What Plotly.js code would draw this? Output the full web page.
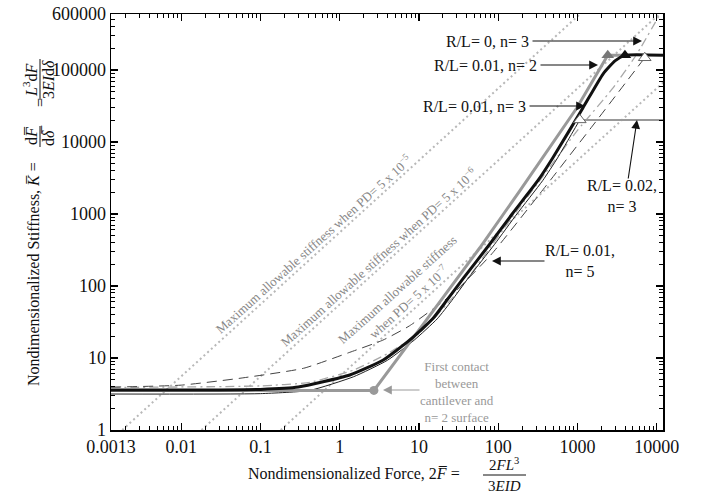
<!DOCTYPE html>
<html><head><meta charset="utf-8">
<script src="https://cdn.plot.ly/plotly-3.0.1.min.js"></script>
<style>body{margin:0;background:#fff}</style>
</head><body><div id="chart" style="width:702px;height:496px"></div>
<script>
// ---- tick labels ----
const xTickVals=[0.0013,0.01,0.1,1,10,100,1000,10000];
const xTickText=['0.0013','0.01','0.1','1','10','100','1000','10000'];
const yTickVals=[1,10,100,1000,10000,100000,600000];
const yTickText=['1','10','100','1000','10000','100000','600000'];

// ---- curves ----
// R/L=0.01, n=3 (thick black)
const rl01n3X=[0.0013,0.03,0.1,0.3,1.34,3.5,7.6,14.9,22.4,35.6,78,150,316,487,1170,2100,3000,3970,12000];
const rl01n3Y=[3.58,3.6,3.66,3.95,5.8,9.3,17.7,35,63,125,380,1000,2900,6000,29700,88000,135000,160000,160000];
// R/L=0.01, n=2 (grey)
const rl01n2X=[0.0013,2.7,13.7,58.6,187,980,1750,2410,3970];
const rl01n2Y=[3.55,3.55,39,340,2100,29700,88000,160000,160000];
// R/L=0.02, n=3 (thin black) and its plateau
const rl02n3X=[0.0013,0.1,0.42,1.5,4,8.7,17,26,41,90,172,363,560,1070];
const rl02n3Y=[3.16,3.2,3.55,5.5,9.3,17.7,35,63,125,380,1000,2900,6000,20300];
const rl02n3PlatX=[1070,12000];
const rl02n3PlatY=[20300,20300];
// R/L=0.01, n=5 (long dash)
const rl01n5X=[0.0013,0.01,0.06,0.35,1.34,3.5,7.6,27,83,333,1500,7060];
const rl01n5Y=[3.94,4.2,5.3,7.2,12,17.7,28,79,280,1900,16000,148000];
// R/L=0, n=3 (light dash-dot, no plateau)
const rl0n3X=[0.0013,0.1,0.42,1.5,4,10,30,60,150,400,1000,2760,5600,11000];
const rl0n3Y=[3.9,4.1,4.6,6.8,11.5,22,80,225,900,3800,14500,55000,166000,600000];
// maximum allowable stiffness lines (PD = 5e-5, 5e-6, 5e-7)
const pd5e5X=[0.0018,1080], pd5e5Y=[1,600000];
const pd5e6X=[0.018,10800], pd5e6Y=[1,600000];
const pd5e7X=[0.18,108000], pd5e7Y=[1,600000];
// markers
const contactX=[2.7], contactY=[3.55];
const n2EndX=[2410], n2EndY=[160000];
const n3EndX=[3970], n3EndY=[160000];
const openEndX=[1070,7060], openEndY=[20300,148000];

// ---- geometry helpers (plot area in px) ----
const L=111,R=663,T=14,B=430;
const xr=[Math.log10(0.0013),Math.log10(12000)], yr=[0,Math.log10(600000)];
const ax=px=>xr[0]+(px-L)/(R-L)*(xr[1]-xr[0]);
const ay=py=>yr[0]+(B-py)/(B-T)*(yr[1]-yr[0]);
const pxp=px=>(px-L)/(R-L);
const pyp=py=>(B-py)/(B-T);

const FONT='Liberation Serif';
const traces=[
 {x:pd5e5X,y:pd5e5Y,mode:'lines',line:{color:'#b8b8b8',width:2,dash:'2px,3px'}},
 {x:pd5e6X,y:pd5e6Y,mode:'lines',line:{color:'#b8b8b8',width:2,dash:'2px,3px'}},
 {x:pd5e7X,y:pd5e7Y,mode:'lines',line:{color:'#b8b8b8',width:2,dash:'2px,3px'}},
 {x:rl0n3X,y:rl0n3Y,mode:'lines',line:{color:'#a8a8a8',width:1.3,dash:'9px,4px,2px,4px',shape:'spline',smoothing:0.5}},
 {x:rl01n5X,y:rl01n5Y,mode:'lines',line:{color:'#444',width:1,dash:'10px,6px',shape:'spline',smoothing:0.5}},
 {x:rl02n3PlatX,y:rl02n3PlatY,mode:'lines',line:{color:'#999',width:2}},
 {x:rl02n3X,y:rl02n3Y,mode:'lines',line:{color:'#222',width:1,shape:'spline',smoothing:0.5}},
 {x:rl01n2X,y:rl01n2Y,mode:'lines',line:{color:'#999',width:3}},
 {x:rl01n3X,y:rl01n3Y,mode:'lines',line:{color:'#111',width:3,shape:'spline',smoothing:0.5}},
 {x:contactX,y:contactY,mode:'markers',marker:{color:'#999',size:9,symbol:'circle'}},
 {x:n2EndX,y:n2EndY,mode:'markers',marker:{color:'#777',size:11,symbol:'triangle-up'}},
 {x:n3EndX,y:n3EndY,mode:'markers',marker:{color:'#111',size:11,symbol:'triangle-up'}},
 {x:openEndX,y:openEndY,mode:'markers',marker:{color:'#fff',size:11,symbol:'triangle-up',line:{color:'#666',width:1}}}
];

function minorVals(lo,hi,maxv){const v=[];for(let e=lo;e<=hi;e++)for(let m=2;m<=9;m++){const t=m*Math.pow(10,e);if(t<=maxv)v.push(t);}return v;}

const axisCommon={type:'log',showgrid:false,zeroline:false,showline:true,linecolor:'#000',linewidth:1.5,
 ticks:'inside',ticklen:7,tickwidth:1.2,tickcolor:'#000',mirror:'allticks',tickmode:'array',
 tickfont:{family:FONT,size:18,color:'#111'}};

const annotations=[];
function txt(text,px,py,opts){annotations.push(Object.assign({text:text,xref:'paper',yref:'paper',x:pxp(px),y:pyp(py),xanchor:'center',yanchor:'middle',showarrow:false,font:{family:FONT,size:16,color:'#111'}},opts||{}));}
function arrow(tx,ty,hx,hy,color){annotations.push({text:'',x:ax(hx),y:ay(hy),xref:'x',yref:'y',ax:tx-hx,ay:ty-hy,showarrow:true,arrowhead:2,arrowsize:1.6,arrowwidth:1.1,arrowcolor:color||'#111'});}

txt('R/L= 0, n= 3',531,42,{xanchor:'right'});
arrow(531,41,642,41);
txt('R/L= 0.01, n= 2',539,65,{xanchor:'right'});
arrow(539,65,598,65);
txt('R/L= 0.01, n= 3',528,106,{xanchor:'right'});
arrow(528,106,585,106);
txt('R/L= 0.02,<br>n= 3',622,196);
arrow(628,180,637,120);
txt('R/L= 0.01,<br>n= 5',580,261);
arrow(546,261,492,261);
txt('First contact<br>between<br>cantilever and<br>n= 2 surface',457,392,{font:{family:FONT,size:13,color:'#999'}});
arrow(421,390,383,390,'#999');

const pdFont={family:FONT,size:13,color:'#888'};
txt('Maximum allowable stiffness when PD= 5 x 10<sup>−5</sup>',313,244,{textangle:-42,font:pdFont});
txt('Maximum allowable stiffness when PD= 5 x 10<sup>−6</sup>',378,257,{textangle:-42,font:pdFont});
txt('Maximum allowable stiffness<br>when PD= 5 x 10<sup>−7</sup>',403,296,{textangle:-42,font:pdFont});

// x axis title with fraction
const tf={family:FONT,size:16,color:'#111'};
const ff={family:FONT,size:15,color:'#111'};
txt('Nondimensionalized Force, 2<i>F\u0305</i> =',462,473,{xanchor:'right',font:tf});
txt('2<i>FL</i><sup>3</sup>',504,464,{font:ff});
txt('3<i>EID</i>',504,486,{font:ff});
// y axis title with fractions
txt('Nondimensionalized Stiffness, <i>K\u0305</i> =',33,388,{textangle:-90,yanchor:'bottom',font:tf});
txt('d<i>F\u0305</i>',31,136,{textangle:-90,font:tf});
txt('d<i>\u03b4\u0305</i>',48,136,{textangle:-90,font:tf});
txt('=',40,103,{textangle:-90,font:tf});
txt('<i>L</i><sup>3</sup>d<i>F</i>',30,80,{textangle:-90,font:tf});
txt('3<i>EI</i>d<i>\u03b4</i>',48,80,{textangle:-90,font:tf});

const shapes=[
 {type:'line',xref:'paper',yref:'paper',x0:pxp(483),x1:pxp(526),y0:pyp(475),y1:pyp(475),line:{color:'#111',width:1}},
 {type:'line',xref:'paper',yref:'paper',x0:pxp(40),x1:pxp(40),y0:pyp(126),y1:pyp(147),line:{color:'#111',width:1}},
 {type:'line',xref:'paper',yref:'paper',x0:pxp(40),x1:pxp(40),y0:pyp(59),y1:pyp(100),line:{color:'#111',width:1}}
];

const layout={width:702,height:496,margin:{l:L,r:702-R,t:T,b:496-B},showlegend:false,
 paper_bgcolor:'#fff',plot_bgcolor:'#fff',
 xaxis:Object.assign({},axisCommon,{range:xr,tickvals:xTickVals,ticktext:xTickText,
   minor:{tickmode:'array',tickvals:minorVals(-3,3,12000).filter(v=>v>0.0013),ticks:'inside',ticklen:4,tickwidth:1,tickcolor:'#000'}}),
 yaxis:Object.assign({},axisCommon,{range:yr,tickvals:yTickVals,ticktext:yTickText,
   minor:{tickmode:'array',tickvals:minorVals(0,5,600000),ticks:'inside',ticklen:4,tickwidth:1,tickcolor:'#000'}}),
 annotations:annotations,shapes:shapes};

Plotly.newPlot('chart',traces,layout,{staticPlot:true});
</script></body></html>
